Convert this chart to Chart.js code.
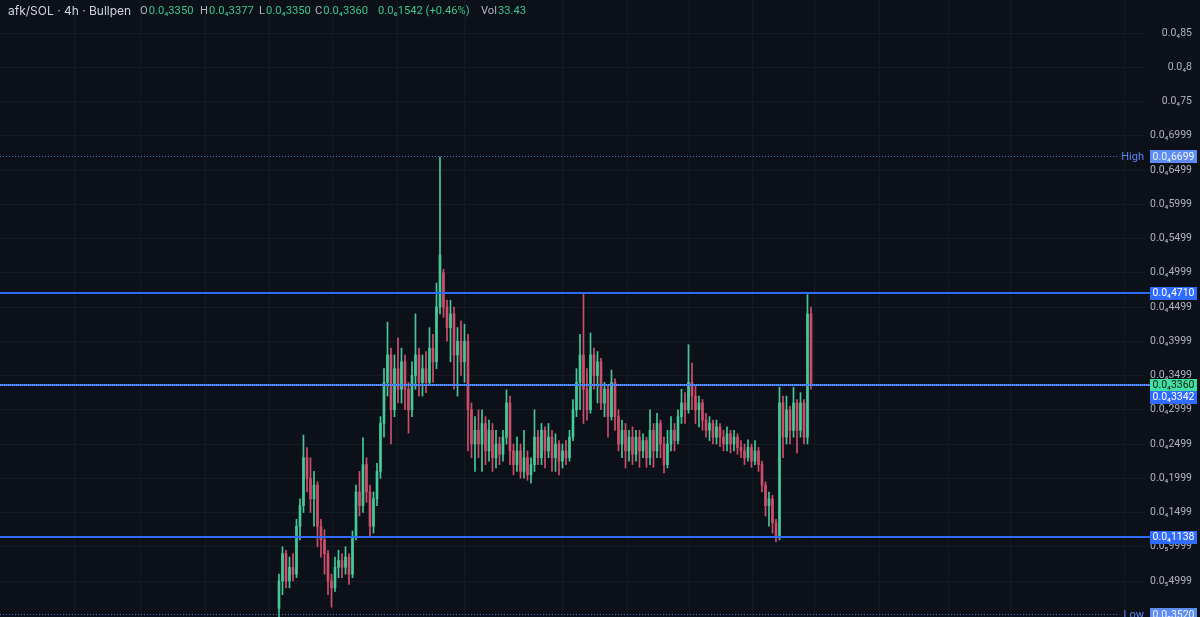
<!DOCTYPE html>
<html>
<head>
<meta charset="utf-8">
<script src="https://cdn.jsdelivr.net/npm/chart.js@4.4.1/dist/chart.umd.min.js"></script>
<style>
  html, body { margin: 0; padding: 0; background: #0c1019; }
  #wrap { position: relative; width: 1200px; height: 617px; }
  #hdr { position: absolute; left: 0; top: 0; width: 600px; height: 24px;
         font: 11.2px Roboto, "DejaVu Sans", sans-serif; white-space: nowrap; }
  #hdr > span { position: absolute; top: 4px; }
  .t { color: #d1d4dc; font: 12px Inter, "DejaVu Sans", sans-serif; top: 3px !important; }
  .k { color: #b2b5be; margin-right: 1px; }
  .g { color: #3cc58c; }
</style>
</head>
<body>
<div id="wrap">
  <canvas id="chart" width="1200" height="617"></canvas>
  <div id="hdr">
    <span class="t" style="left:8px">afk/SOL · 4h · Bullpen</span>
    <span style="left:140px"><span class="k">O</span><span class="g">0.0₄3350</span></span>
    <span style="left:200px"><span class="k">H</span><span class="g">0.0₄3377</span></span>
    <span style="left:259px"><span class="k">L</span><span class="g">0.0₄3350</span></span>
    <span style="left:315px"><span class="k">C</span><span class="g">0.0₄3360</span></span>
    <span class="g" style="left:378px">0.0₆1542 (+0.46%)</span>
    <span style="left:481px"><span class="k">Vol</span><span class="g">33.43</span></span>
  </div>
</div>
<script>
// prices in units of 1e-6 SOL (33.6 = 0.0000336)
var opens  = [1,5,9,5,7,6,13,16,23,20, 17,19,13,11,9,5,4,7,8,7, 8.5,6,11.5,18,16,22,18,13,17,21,
              28,34,38,30,36,33,37,33,30,35, 38,34,36,34,39,37,45,50,45,42, 44,38,40,37,40,30,25,27,25,28,
              24,27,23,25,23.5,26,31,24,22,24, 21,23,20.5,22,26,23,27,24,26,23, 25,22.5,24,23,26,30,34,38,33,30,
              38,35,37,31,33,29,34,29,25,27, 24,26,23.5,26,24,25.5,23,27,24,28, 25,22,25,27,25.5,29,31,30,34,32,
              30,31,28.5,27,28,26,27.5,26,25,26.5, 25,26,24.5,24,23,24.5,22.5,24,22,19, 16,17,13.5,11.5,31,26,30,27,31,27,
              31,26,44];
var highs  = [6,10,9.5,8.5,9,14,17,26.3,24.5,23, 21,19.5,14,12.5,9.5,6,8.5,9.5,9,10, 9,12.3,19,21,25.9,23,19,18,22.2,29,
              36,42.8,39,38,40.5,39,38,34,37,44, 39,38,38.5,42,41,48.5,66.9,50.5,46,46, 45,42,43,42.5,41,31,29,30,30,29,
              28.5,28,27,26,27,32.9,32,25,26,25, 27,24,23,30,27,28,27.5,28,27,26.5, 25.5,25,25.5,27,31.5,36,41,47,36,41.2,
              39,38.5,37.5,34,33.5,35.8,34.5,30,28.5,28, 27,27.5,27,27,26.5,26,30,28,29.5,28.5, 26,27,29,28,30,33,32.5,39.5,36.8,33.5,
              32,31.5,29.5,29,28.5,28.5,28,27,27.5,27, 27,26.5,25.5,25,25.6,25,25.5,24.5,22.5,19.5, 18,17.5,14,33.3,32,32,30.5,33.3,31.5,32.5,
              31.5,46.8,45];
var lows   = [-0.3,3,4,4,5,5.5,11,15,18,15, 13,10,8.5,6,3,1.2,3.5,5.5,5.5,6, 4.5,5.5,11,14.5,15,16.5,11.4,12,16,20,
              26,32,25,29,31,31,30,26.6,29,33, 32,32,32.5,33.5,34,36,44,43.5,40,37, 33,32,35,34,24,23,21,23,21,22,
              22.5,21,21.5,22,22.5,25,22,20.5,21,20, 20,19.7,19.3,21,22,22,21.5,23,21,21, 20.5,21.5,22,22.5,25.5,29,30,28,28.5,29.5,
              33,31,30,29,26,28.5,27,24,23,21.5, 22.5,22,22.5,21.6,23,21.6,22,21.6,23,23, 20.8,21.5,24,24,25,28,28,29.5,30,28,
              27.5,27,26,25.5,25,25,24.6,24,24,23.7, 24,23.5,23,22,22.5,21.6,22,21,18,14.5, 13,12,10.7,11,23,25,25,26,23.7,26,
              25,25,33];
var closes = [5,9,5,7,6,13,16,23,20,17, 19,13,11,9,5,4,7,8,7,8.5, 6,11.5,18,16,22,18,13,17,21,28,
              34,38,30,36,33,37,33,30,35,38, 34,36,34,39,37,45,52.6,45,42,44, 38,40,37,40,30,25,27,25,28,24,
              27,23,25,23.5,26,31,24,22,24,21, 23,20.5,22,26,23,27,24,26,23,25, 22.5,24,23,26,30,34,38,33,30,38,
              35,37,31,33,29,34,29,25,27,24, 26,23.5,26,24,25.5,23,27,24,28,25, 22,25,27,25.5,29,31,30,34,32,30,
              31,28.5,27,28,26,27.5,26,25,26.5,25, 26,24.5,24,23,24.5,22.5,24,22,19,16, 17,13.5,11.5,31,26,30,27,31,27,31,
              26,44,33.6];

var tickValues = [85, 80, 75, 70, 65, 60, 55, 50, 45, 40, 35, 30, 25, 20, 15, 10, 5];
var tickLabels = ['0.0₄85', '0.0₄8', '0.0₄75', '0.0₄6999', '0.0₄6499', '0.0₄5999', '0.0₄5499',
                  '0.0₄4999', '0.0₄4499', '0.0₄3999', '0.0₄3499', '0.0₄2999', '0.0₄2499',
                  '0.0₄1999', '0.0₄1499', '0.0₅9999', '0.0₅4999'];

// time grid lines, in candle index units
var timeGrid = [-58.3, -39.7, -21.1, -2.6, 15.4, 34, 53.1, 80.9, 99.7, 117.4, 135.4, 153.1, 171.7, 191.4, 208.9, 241.7];

var lineValues = [47.10, 11.38];
var lineLabels = ['0.0₄4710', '0.0₄1138'];
var avgValue = 33.42, avgLabel = '0.0₄3342';
var lastValue = 33.60, lastLabel = '0.0₄3360';
var highValue = 66.99, highLabel = '0.0₄6699';
var lowValue = 3.52, lowLabel = '0.0₅3520';

var UP = '#45c99a', DOWN = '#cf4f6b';
var FONT = 'Roboto, "DejaVu Sans", sans-serif';
var candleColors = closes.map(function (c, i) { return c >= opens[i] ? UP : DOWN; });

function tag(ctx, y, text, bg, fg) {
  ctx.fillStyle = bg;
  ctx.fillRect(1150, Math.round(y - 6.5), 47, 13);
  ctx.fillStyle = fg;
  ctx.font = '10.5px ' + FONT;
  ctx.textAlign = 'center';
  ctx.textBaseline = 'middle';
  ctx.fillText(text, 1173.5, y + 0.5);
}

function hline(ctx, x0, x1, y, color, width, dash) {
  ctx.beginPath();
  ctx.setLineDash(dash || []);
  ctx.strokeStyle = color;
  ctx.lineWidth = width;
  ctx.moveTo(x0, y);
  ctx.lineTo(x1, y);
  ctx.stroke();
  ctx.setLineDash([]);
}

var levelsPlugin = {
  id: 'levels',
  afterDatasetsDraw: function (chart) {
    var ctx = chart.ctx, a = chart.chartArea, y = chart.scales.y;
    ctx.save();

    // high marker at its price, low marker pinned to the bottom edge
    var yh = Math.round(y.getPixelForValue(highValue)) + 0.5;
    var yl = Math.max(Math.round(y.getPixelForValue(lowValue)) + 0.5, a.bottom - 2.5);
    [[yh, 'High', highLabel], [yl, 'Low', lowLabel]].forEach(function (m) {
      hline(ctx, 0, 1118, m[0], '#4a6fd4', 1, [1, 2]);
      ctx.fillStyle = '#5b84f0';
      ctx.font = '11px ' + FONT;
      ctx.textAlign = 'right';
      ctx.textBaseline = 'middle';
      ctx.fillText(m[1], 1144, m[0] + 0.5);
      tag(ctx, m[0], m[2], '#5d8cf2', '#eef3ff');
    });

    // horizontal levels
    lineValues.forEach(function (v, i) {
      var py = Math.round(y.getPixelForValue(v));
      hline(ctx, 0, 1150, py, '#2f6bff', 2);
      tag(ctx, py, lineLabels[i], '#2f6bff', '#ffffff');
    });

    var pl = Math.round(y.getPixelForValue(lastValue));
    hline(ctx, 0, 1150, pl, '#2f6bff', 2);
    hline(ctx, 0, 1150, pl, '#9cc9ff', 1, [1, 1]);
    tag(ctx, pl, lastLabel, '#3fe0a0', '#0b1c14');
    tag(ctx, pl + 12, avgLabel, '#2f6bff', '#ffffff');
    ctx.restore();
  }
};

new Chart(document.getElementById('chart').getContext('2d'), {
  type: 'bar',
  data: {
    datasets: [{
      data: lows.map(function (l, i) { return { x: i, y: [l, highs[i]] }; }),
      backgroundColor: candleColors,
      barThickness: 1,
      grouped: false
    }, {
      data: opens.map(function (o, i) { return { x: i, y: [o, closes[i]] }; }),
      backgroundColor: candleColors,
      barThickness: 2,
      grouped: false
    }]
  },
  options: {
    responsive: false,
    animation: false,
    layout: { padding: { left: 0, right: 8, top: 0, bottom: 0 } },
    plugins: { legend: { display: false }, tooltip: { enabled: false } },
    scales: {
      x: {
        type: 'linear',
        offset: false,
        min: -79.71,
        max: 247.43,
        afterBuildTicks: function (s) { s.ticks = timeGrid.map(function (v) { return { value: v }; }); },
        afterFit: function (s) { s.height = 0; s.paddingLeft = 0; s.paddingRight = 0; },
        ticks: { display: false },
        grid: { color: '#151a25', drawTicks: false, offset: false },
        border: { display: false }
      },
      y: {
        position: 'right',
        min: -0.25,
        max: 89.82,
        afterBuildTicks: function (s) { s.ticks = tickValues.map(function (v) { return { value: v }; }); },
        afterFit: function (s) { s.width = 47; s.paddingTop = 0; s.paddingBottom = 0; },
        ticks: {
          crossAlign: 'far',
          padding: 0,
          color: '#b0b3bc',
          font: { family: FONT, size: 10.5 },
          callback: function (v, i) { return tickLabels[i]; }
        },
        grid: { color: '#151a25', drawTicks: false },
        border: { display: false }
      }
    }
  },
  plugins: [levelsPlugin]
});
</script>
</body>
</html>
